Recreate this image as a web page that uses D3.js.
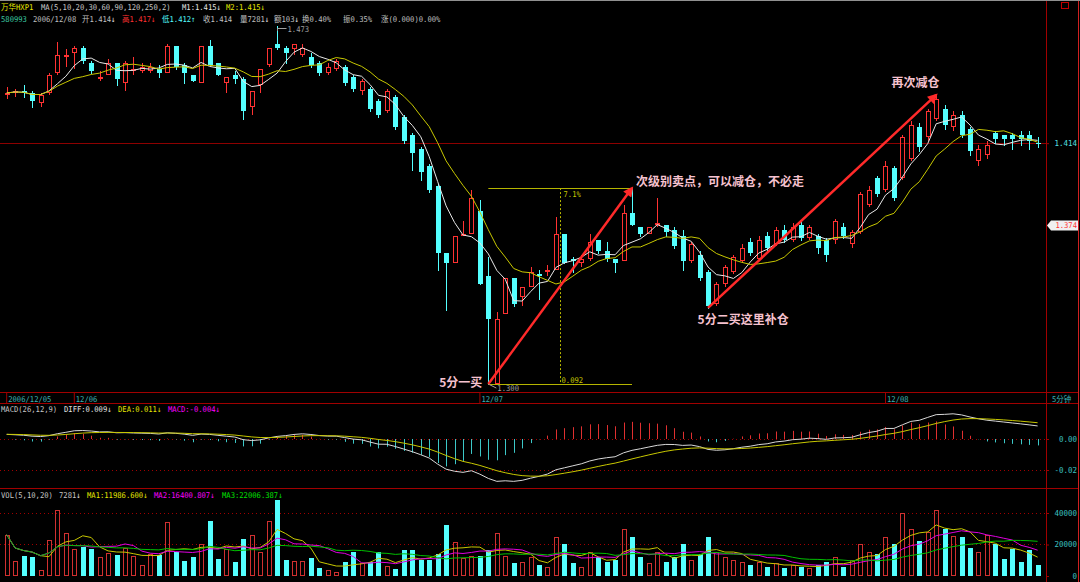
<!DOCTYPE html>
<html><head><meta charset="utf-8"><title>万华HXP1 5分钟</title>
<script src="https://cdn.jsdelivr.net/npm/d3@7/dist/d3.min.js"></script>
<style>
html,body{margin:0;padding:0;background:#000;overflow:hidden}
svg{display:block;background:#000}
text{font-family:"DejaVu Sans Mono","Liberation Mono","Noto Sans CJK SC",monospace;}
</style></head><body>
<svg id="chart" width="1080" height="582"></svg>
<script>
// ---------------- data ----------------
const openP  = [1.438,1.439,1.440,1.439,1.434,1.439,1.449,1.457,1.459,1.462,1.454,1.446,1.448,1.454,1.444,1.450,1.450,1.450,1.451,1.449,
1.463,1.453,1.448,1.444,1.463,1.454,1.444,1.448,1.446,1.432,1.443,1.453,1.464,1.462,1.461,1.458,1.457,1.454,1.449,1.451,
1.452,1.447,1.440,1.441,1.435,1.430,1.437,1.427,1.418,1.411,1.403,1.393,1.361,1.356,1.369,1.370,1.381,1.350,1.300,1.332,
1.349,1.340,1.345,1.351,1.352,1.353,1.370,1.358,1.356,1.358,1.367,1.362,1.358,1.357,1.380,1.373,1.370,1.374,1.374,1.372,
1.369,1.357,1.360,1.352,1.337,1.346,1.352,1.357,1.366,1.358,1.369,1.365,1.372,1.367,1.374,1.368,1.369,1.367,1.367,1.373,
1.365,1.371,1.384,1.397,1.391,1.402,1.397,1.406,1.422,1.417,1.426,1.431,1.422,1.428,1.421,1.405,1.408,1.419,1.418,1.418,
1.418,1.418,1.414];
const highP  = [1.442,1.441,1.443,1.440,1.439,1.449,1.465,1.461,1.463,1.463,1.455,1.450,1.456,1.454,1.455,1.457,1.454,1.454,1.453,1.464,
1.463,1.454,1.448,1.463,1.466,1.454,1.447,1.450,1.447,1.440,1.451,1.462,1.473,1.463,1.464,1.464,1.459,1.455,1.454,1.456,
1.453,1.448,1.446,1.442,1.436,1.441,1.438,1.428,1.419,1.412,1.404,1.394,1.361,1.369,1.376,1.391,1.386,1.359,1.333,1.349,
1.349,1.345,1.354,1.353,1.355,1.378,1.370,1.359,1.360,1.370,1.367,1.366,1.358,1.384,1.392,1.373,1.373,1.387,1.374,1.373,
1.372,1.366,1.362,1.353,1.347,1.355,1.360,1.365,1.368,1.369,1.371,1.373,1.374,1.375,1.376,1.374,1.370,1.368,1.377,1.375,
1.372,1.390,1.393,1.398,1.405,1.403,1.418,1.425,1.424,1.431,1.438,1.433,1.430,1.430,1.422,1.413,1.415,1.420,1.418,1.419,
1.420,1.420,1.417];
const lowP   = [1.436,1.437,1.437,1.432,1.432,1.438,1.448,1.452,1.451,1.454,1.449,1.445,1.448,1.443,1.440,1.448,1.449,1.449,1.447,1.449,
1.451,1.444,1.445,1.444,1.453,1.448,1.439,1.444,1.426,1.428,1.439,1.452,1.461,1.454,1.458,1.457,1.452,1.448,1.448,1.450,
1.443,1.440,1.438,1.430,1.427,1.429,1.421,1.414,1.401,1.396,1.390,1.353,1.334,1.356,1.369,1.370,1.346,1.300,1.300,1.332,
1.336,1.336,1.345,1.339,1.350,1.353,1.356,1.352,1.354,1.357,1.361,1.357,1.352,1.357,1.374,1.369,1.370,1.373,1.369,1.363,
1.353,1.356,1.348,1.335,1.336,1.345,1.351,1.356,1.360,1.357,1.362,1.364,1.366,1.366,1.367,1.367,1.361,1.357,1.365,1.368,
1.363,1.370,1.383,1.388,1.390,1.386,1.396,1.405,1.410,1.415,1.425,1.421,1.420,1.417,1.408,1.403,1.406,1.414,1.413,1.411,
1.413,1.411,1.412];
const closeP = [1.439,1.440,1.439,1.435,1.438,1.448,1.458,1.458,1.462,1.455,1.450,1.447,1.454,1.446,1.454,1.451,1.452,1.452,1.449,1.463,
1.452,1.449,1.445,1.463,1.453,1.448,1.447,1.446,1.430,1.440,1.451,1.462,1.462,1.459,1.464,1.462,1.453,1.449,1.452,1.455,
1.444,1.441,1.445,1.431,1.428,1.440,1.422,1.415,1.409,1.400,1.391,1.361,1.356,1.369,1.370,1.387,1.346,1.330,1.330,1.349,
1.337,1.345,1.352,1.350,1.353,1.370,1.356,1.357,1.358,1.366,1.362,1.358,1.356,1.380,1.374,1.370,1.373,1.375,1.371,1.364,
1.357,1.365,1.349,1.336,1.346,1.354,1.359,1.363,1.361,1.367,1.363,1.372,1.367,1.373,1.368,1.373,1.363,1.360,1.376,1.369,
1.371,1.389,1.391,1.389,1.403,1.387,1.417,1.423,1.412,1.430,1.436,1.423,1.428,1.418,1.410,1.411,1.413,1.416,1.416,1.416,
1.416,1.415,1.414];
const volume = [26200,9300,13000,12300,3800,22900,42100,27200,17000,18500,17400,12300,14500,13500,18000,12600,6900,14100,13500,34300,
15200,9300,11900,20300,34900,10800,17400,8600,23300,26200,15200,34900,48400,10200,9300,9300,11200,4900,3600,2700,
9100,15200,8000,8600,15200,6400,4300,16300,16300,10200,10200,13700,32300,21800,11500,13000,13000,16300,27300,13000,
8000,9000,12000,7000,6000,25000,20000,8000,6000,15000,12000,9000,10000,30000,25000,12000,8000,15000,9000,12000,
20000,10000,14000,25000,15000,12000,10000,9000,7000,9000,6000,8000,5000,7000,6000,5000,7000,9000,12000,6000,
10000,20000,15000,14000,25000,20000,40000,30000,22000,28000,42000,30000,25120,25000,18000,15000,26000,20075,10500,16900,
8700,16552,7281];

const dateLabels = ["2006/12/05","12/06","12/07","12/08"];
const dateIndex  = [0,8,56,104];
const priceTicks = [1.414];
const macdTicks  = [0,-0.02];
const volTicks   = [0,20000,40000];
const maPeriods  = [5,10];
const volMaPeriods = [5,10,20];
const macdStart  = [0.003,0.003];   // DIFF, DEA at the first bar

const YEL="#e6e600", GRY="#c0c0c0", WHT="#e6e6e6", RED="#ff3232", CYAN="#54ffff", MAG="#ff00ff", GRN="#00e000";
const header1 = [[1,[["万华HXP1",YEL]]],[41,[["MA(5,10,20,30,60,90,120,250,2)","#c8c8c8"]]],[182,[["M1:1.415↓",WHT]]],[226,[["M2:1.415↓",YEL]]]];
const header2 = [[1,[["580993","#3cc8a0"]]],[33,[["2006/12/08",GRY]]],[82,[["开1.414",GRY],["↓",WHT]]],[122,[["高1.417↓",RED]]],
  [162,[["低1.412↑",CYAN]]],[203,[["收1.414",GRY]]],[240,[["量7281",GRY],["↓",WHT]]],[274,[["额103",GRY],["↓",WHT]]],
  [302,[["换0.40%",GRY]]],[343,[["振0.35%",GRY]]],[381,[["涨(0.000)0.00%",GRY]]]];
const headerMacd = [[1,[["MACD(26,12,9)","#c8c8c8"]]],[64,[["DIFF:0.009↓",WHT]]],[118,[["DEA:0.011↓",YEL]]],[168,[["MACD:-0.004↓",MAG]]]];
const headerVol = [[1,[["VOL(5,10,20)","#c8c8c8"]]],[59,[["7281","#c8c8c8"],["↓",WHT]]],[87,[["MA1:11986.600↓",YEL]]],[154,[["MA2:16400.807↓",MAG]]],[222,[["MA3:22006.387↓",GRN]]]];

const notes = [
  {text:"5分一买", i:57, p:1.300, dx:-6, dy:0, anchor:"end"},
  {text:"次级别卖点，可以减仓，不必走", i:74, p:1.392, dx:4, dy:-5, anchor:"start"},
  {text:"5分二买这里补仓", i:82, p:1.3293, dx:-2, dy:1, anchor:"start"},
  {text:"再次减仓", i:104, p:1.4434, dx:6, dy:0, anchor:"start"}
];
const arrows = [ {i0:57, p0:1.300, i1:74, p1:1.392}, {i0:83, p0:1.335, i1:110, p1:1.438} ];
const measure = {i0:57, i1:74, pLow:1.300, pHigh:1.392, pct:"7.1%", diff:"0.092"};

// ---------------- drawing ----------------
const FRAME="#a00000";
const N = closeP.length;
const svg = d3.select("#chart");
const x  = d3.scaleLinear().domain([0,N-1]).range([6.7,1037.6]);
const yP = d3.scaleLog().domain([1.2964,1.4854]).range([392,2]);
const yM = d3.scaleLinear().domain([-0.03161,0.02258]).range([488,404]);
const yV = d3.scaleLinear().domain([0,55873]).range([576,488]);

// small bitmap-like text: ASCII 7.2px mono, CJK 7.5px, stretched vertically
const ASC = 7.2, CJS = 7.5, SY = 1.1;
const CJK = /[\u2E80-\u9FFF\uFF00-\uFFEF]/;
function smallText(parent, tx, ty, parts, anchor){
  const t = parent.append("text").attr("transform",`translate(${tx},${ty}) scale(1,${SY})`)
    .attr("text-anchor",anchor||"start").attr("font-size",ASC);
  parts.forEach(([s,col])=>{
    (s.match(/[\u2E80-\u9FFF\uFF00-\uFFEF]+|[^\u2E80-\u9FFF\uFF00-\uFFEF]+/g)||[]).forEach(run=>{
      const cj = CJK.test(run);
      t.append("tspan").attr("fill",col).attr("font-size",cj?CJS:ASC)
        .style("font-family",cj?"'Noto Sans CJK SC',sans-serif":"'DejaVu Sans Mono',monospace").text(run);
    });
  });
  return t;
}

const defs = svg.append("defs");
defs.append("clipPath").attr("id","mainclip").append("rect").attr("x",0).attr("y",2).attr("width",1046).attr("height",390);

// frame lines
const fr = svg.append("g");
fr.append("line").attr("x1",0).attr("x2",1080).attr("y1",0.5).attr("y2",0.5).attr("stroke","#909090");
[392.5,403.5,488.5].forEach(y=>fr.append("line").attr("x1",0).attr("x2",1078).attr("y1",y).attr("y2",y).attr("stroke",FRAME));
fr.append("line").attr("x1",1046.5).attr("x2",1046.5).attr("y1",1).attr("y2",582).attr("stroke",FRAME);
fr.append("line").attr("x1",1078.5).attr("x2",1078.5).attr("y1",1).attr("y2",582).attr("stroke","#d02020");

// dotted grids
const dot = (y)=>fr.append("line").attr("x1",0).attr("x2",1046).attr("y1",Math.round(y)+0.5).attr("y2",Math.round(y)+0.5).attr("stroke","#a00000").attr("stroke-dasharray","1,3");
macdTicks.forEach(v=>dot(yM(v)));
volTicks.filter(v=>v>0).forEach(v=>dot(yV(v)));

// current price line
svg.append("line").attr("x1",0).attr("x2",1046).attr("y1",Math.round(yP(closeP[N-1]))+0.5).attr("y2",Math.round(yP(closeP[N-1]))+0.5).attr("stroke","#8c0000");

// candles
const cg = svg.append("g").attr("clip-path","url(#mainclip)");
d3.range(N).forEach(i=>{
  const c = Math.round(x(i));
  const up = closeP[i] > openP[i];
  const col = up ? RED : CYAN;
  const yo = yP(openP[i]), yc = yP(closeP[i]);
  const top = Math.round(Math.min(yo,yc)), bot = Math.round(Math.max(yo,yc));
  const yh = Math.round(yP(highP[i])), yl = Math.round(yP(lowP[i]));
  if (up) {
    if (yh < top) cg.append("line").attr("x1",c+0.5).attr("x2",c+0.5).attr("y1",yh).attr("y2",top).attr("stroke",col);
    if (yl > bot) cg.append("line").attr("x1",c+0.5).attr("x2",c+0.5).attr("y1",bot).attr("y2",yl).attr("stroke",col);
    cg.append("rect").attr("x",c-1.5).attr("y",top+0.5).attr("width",4).attr("height",Math.max(bot-top-1,0)).attr("fill","none").attr("stroke",col);
  } else {
    cg.append("line").attr("x1",c+0.5).attr("x2",c+0.5).attr("y1",yh).attr("y2",yl+1).attr("stroke",col);
    cg.append("rect").attr("x",c-2).attr("y",top).attr("width",5).attr("height",Math.max(bot-top,1)).attr("fill",col);
  }
});

function sma(arr,n){return arr.map((d,i)=>d3.mean(arr.slice(Math.max(0,i-n+1),i+1)));}
const maColors = ["#e8e8e8","#c8c800"];
maPeriods.forEach((n,k)=>{
  cg.append("path").datum(sma(closeP,n)).attr("fill","none").attr("stroke",maColors[k]).attr("stroke-width",1)
    .attr("d",d3.line().x((d,i)=>x(i)).y(d=>yP(d)));
});

// measurement box
const mg = svg.append("g");
const mx0 = x(measure.i0), mx1 = x(measure.i1), mid = Math.round((mx0+mx1)/2)+0.5;
[measure.pLow,measure.pHigh].forEach(p=>mg.append("line").attr("x1",mx0).attr("x2",mx1).attr("y1",Math.round(yP(p))+0.5).attr("y2",Math.round(yP(p))+0.5).attr("stroke","#b4b400"));
mg.append("line").attr("x1",mid).attr("x2",mid).attr("y1",yP(measure.pHigh)).attr("y2",yP(measure.pLow)).attr("stroke","#b4b400").attr("stroke-dasharray","2,2");
smallText(mg, mid+3, yP(measure.pHigh)+9, [[measure.pct,"#c8c800"]]);
smallText(mg, mid+1, yP(measure.pLow)-1, [[measure.diff,"#c8c800"]]);

// hi / lo labels
const hiI = d3.maxIndex(highP), loI = d3.minIndex(lowP);
const hx = Math.round(x(hiI))+0.5, hy = Math.round(yP(highP[hiI]));
svg.append("path").attr("d",`M${hx},${hy+5}V${hy+2.5}H${hx+9}`).attr("fill","none").attr("stroke","#a0a0a0");
smallText(svg, hx+10, hy+6, [[highP[hiI].toFixed(3),"#a0a0a0"]]);
const lx = x(loI), ly = yP(lowP[loI]);
svg.append("path").attr("d",`M${lx},${ly}L${lx+8},${ly+4}`).attr("fill","none").attr("stroke","#a0a0a0");
smallText(svg, lx+9, ly+7, [[lowP[loI].toFixed(3),"#a0a0a0"]]);

// arrows
defs.append("marker").attr("id","ah").attr("viewBox","0 0 10 10").attr("refX",8).attr("refY",5)
  .attr("markerWidth",4.5).attr("markerHeight",4).attr("orient","auto").attr("markerUnits","strokeWidth")
  .append("path").attr("d","M0,0L10,5L0,10z").attr("fill","#ff2a2a");
arrows.forEach(a=>{
  svg.append("line").attr("x1",x(a.i0)).attr("y1",yP(a.p0)).attr("x2",x(a.i1)).attr("y2",yP(a.p1))
    .attr("stroke","#ff2a2a").attr("stroke-width",2.5).attr("marker-end","url(#ah)");
});

// annotation texts
notes.forEach(n=>{
  svg.append("text").attr("x",x(n.i)+n.dx).attr("y",yP(n.p)+n.dy).attr("dominant-baseline","middle")
    .attr("text-anchor",n.anchor).attr("fill","#f6c2cf").attr("font-weight","bold").attr("font-size",12)
    .style("font-family","'Noto Sans CJK SC',sans-serif").text(n.text);
});

// date axis
const dAxis = d3.axisBottom(x).tickValues(dateIndex).tickFormat((d,k)=>dateLabels[k]).tickSize(0);
const dg = svg.append("g").attr("transform","translate(0,393)").call(dAxis);
dg.select(".domain").remove();
dg.selectAll(".tick").append("line").attr("x1",-0.5).attr("x2",-0.5).attr("y1",0).attr("y2",10).attr("stroke",FRAME);
dg.selectAll("text").attr("text-anchor","start").attr("x",1).attr("y",7.9).attr("dy",0).attr("fill","#3cb4b4").attr("font-size",ASC)
  .attr("transform",`scale(1,${SY})`).style("font-family","'DejaVu Sans Mono',monospace");
smallText(svg, 1052, 401.5, [["5分钟","#3cb4b4"]]);

// right axes
function rightAxis(scale,ticks,fmt,col){
  const ax = d3.axisRight(scale).tickValues(ticks).tickFormat(fmt).tickSize(3);
  const g = svg.append("g").attr("transform","translate(1046,0)").call(ax);
  g.select(".domain").remove();
  g.selectAll(".tick line").attr("stroke",FRAME);
  g.selectAll("text").attr("x",31).attr("dy","0.3em").attr("text-anchor","end").attr("fill",col).attr("font-size",7.5)
    .attr("transform",`scale(1,${SY})`).style("font-family","'DejaVu Sans Mono',monospace");
  return g;
}
rightAxis(yP,priceTicks,d=>d.toFixed(3),"#54e0e0");
rightAxis(yM,macdTicks,d=>d.toFixed(2).replace("-0.00","0.00"),"#3cc0c0");
rightAxis(yV,volTicks,d=>String(d),"#3cc0c0");

// 1.374 flag
const fy = yP(1.374);
svg.append("path").attr("d",`M1047,${fy}L1051,${fy-5}H1078V${fy+5}H1051Z`).attr("fill","#f0f0f0");
smallText(svg, 1077, fy+3, [["1.374","#ff3232"]], "end");

// MACD
const macdG = svg.append("g");
let e12 = closeP[0]+macdStart[0]/2, e26 = closeP[0]-macdStart[0]/2, dea = macdStart[1];
const diffArr=[], deaArr=[], histArr=[];
closeP.forEach((c,i)=>{
  if(i>0){ e12 = e12 + (c-e12)*2/13; e26 = e26 + (c-e26)*2/27; }
  const df = e12-e26;
  if(i>0) dea = dea + (df-dea)*2/10;
  diffArr.push(df); deaArr.push(dea); histArr.push(2*(df-dea));
});
histArr.forEach((h,i)=>{
  const c = Math.round(x(i))+0.5;
  macdG.append("line").attr("x1",c).attr("x2",c).attr("y1",yM(0)).attr("y2",yM(h)).attr("stroke",h>=0?"#e03030":"#3cc8c8");
});
macdG.append("path").datum(diffArr).attr("fill","none").attr("stroke","#d8d8d8").attr("d",d3.line().x((d,i)=>x(i)).y(d=>yM(d)));
macdG.append("path").datum(deaArr).attr("fill","none").attr("stroke","#c8c800").attr("d",d3.line().x((d,i)=>x(i)).y(d=>yM(d)));

// Volume
const vg = svg.append("g");
volume.forEach((v,i)=>{
  const c = Math.round(x(i));
  const up = closeP[i] > openP[i];
  const yt = Math.round(yV(v)), yb = Math.round(yV(0));
  if(up) vg.append("rect").attr("x",c-1.5).attr("y",yt+0.5).attr("width",4).attr("height",yb-yt-1).attr("fill","none").attr("stroke","#d03030");
  else vg.append("rect").attr("x",c-2).attr("y",yt).attr("width",5).attr("height",yb-yt).attr("fill",CYAN);
});
const vmaColors = ["#c8c800","#e000e0","#00c000"];
volMaPeriods.forEach((n,k)=>{
  vg.append("path").datum(sma(volume,n)).attr("fill","none").attr("stroke",vmaColors[k])
    .attr("d",d3.line().x((d,i)=>x(i)).y(d=>yV(d)));
});

// headers
function header(rows,y){ rows.forEach(([hx,parts])=>smallText(svg,hx,y,parts)); }
header(header1,10);
header(header2,21.5);
header(headerMacd,412);
header(headerVol,497.5);
// small window icon top right
svg.append("rect").attr("x",1061.5).attr("y",2.5).attr("width",7).attr("height",6).attr("fill","none").attr("stroke","#c00000");
</script></body></html>
